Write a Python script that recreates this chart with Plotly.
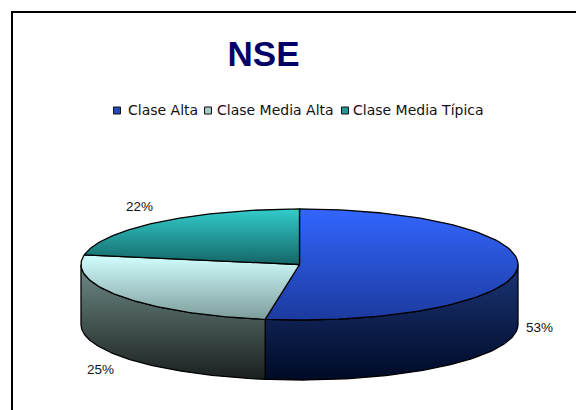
import numpy as np
import plotly.graph_objects as go

# --- data ---
categories = ["Clase Alta", "Clase Media Alta", "Clase Media Típica"]
values = [52.51, 25.29, 22.2]
title_text = "NSE"

# --- styles ---
top_colors = [("#3366ff", "#1c3a9e"), ("#d2ffff", "#7c9c9a"), ("#33cccc", "#146666")]
side_colors = [("#1b3577", "#000a26"), ("#6f8c88", "#1a1f1f"), ("#146666", "#0a3333")]
swatch_colors = ["#2448c0", "#a8c8c6", "#229a9a"]

# --- geometry of the drawing (axis units = pixels of the page) ---
CX, CY, RX, RY, DEPTH = 299.5, 264.5, 218.5, 55.5, 60
LABEL_POS = [(539, 327), (100, 369), (139, 206)]
LEGEND_KEY_X = [117, 208, 345]
LEGEND_TEXT_X = [128, 217, 353]
LEGEND_Y = 110


def ellipse(turn_a, turn_b, n=90, dy=0):
    t = np.linspace(turn_a, turn_b, n) * 2 * np.pi
    return CX + RX * np.sin(t), CY - RY * np.cos(t) + dy


fig = go.Figure()
total = sum(values)
edges = np.cumsum([0] + values) / total
LINE = dict(color="#000000", width=1.3)

# side walls: only the front half of the disc (turn 0.25 .. 0.75) is visible
for i in range(len(values)):
    a, b = max(edges[i], 0.25), min(edges[i + 1], 0.75)
    if a >= b:
        continue
    x1, y1 = ellipse(a, b)
    x2, y2 = ellipse(b, a, dy=DEPTH)
    fig.add_trace(go.Scatter(
        x=np.r_[x1, x2, x1[0]], y=np.r_[y1, y2, y1[0]],
        mode="lines", line=LINE, fill="toself",
        fillgradient=dict(type="vertical", start=CY, stop=CY + RY + DEPTH,
                          colorscale=[[0, side_colors[i][0]], [1, side_colors[i][1]]]),
        showlegend=False, hoverinfo="skip",
    ))

# top faces
for i, cat in enumerate(categories):
    x, y = ellipse(edges[i], edges[i + 1])
    top = CY - RY if i != 1 else float(y.min())
    fig.add_trace(go.Scatter(
        x=np.r_[CX, x, CX], y=np.r_[CY, y, CY],
        mode="lines", line=LINE, fill="toself", name=cat,
        fillgradient=dict(type="vertical", start=top, stop=CY + RY if i != 2 else CY,
                          colorscale=[[0, top_colors[i][0]], [1, top_colors[i][1]]]),
        showlegend=False, hoverinfo="name",
    ))

annotations = []
for v, (lx, ly) in zip(values, LABEL_POS):
    annotations.append(dict(x=lx, y=ly, xref="x", yref="y", text=f"{round(v)}%", showarrow=False,
                            font=dict(family="Liberation Sans", size=13.5, color="#111111"),
                            xanchor="center", yanchor="middle"))
shapes = [
    dict(type="line", xref="x", yref="y", x0=11, x1=576, y0=12, y1=12, line=dict(color="#000", width=2)),
    dict(type="line", xref="x", yref="y", x0=12, x1=12, y0=11, y1=410, line=dict(color="#000", width=2)),
]
for cat, kx, tx, c in zip(categories, LEGEND_KEY_X, LEGEND_TEXT_X, swatch_colors):
    annotations.append(dict(x=tx, y=LEGEND_Y, xref="x", yref="y", text=cat, showarrow=False,
                            font=dict(family="DejaVu Sans", size=14, color="#111111"),
                            xanchor="left", yanchor="middle", xshift=-2))
    shapes.append(dict(type="rect", xref="x", yref="y", x0=kx - 3.5, x1=kx + 3.5,
                       y0=LEGEND_Y - 3, y1=LEGEND_Y + 4, fillcolor=c,
                       line=dict(color="#111111", width=1)))

fig.update_layout(
    width=576, height=410, autosize=False,
    margin=dict(l=0, r=0, t=0, b=0),
    paper_bgcolor="white", plot_bgcolor="white",
    showlegend=False,
    title=dict(text=f"<b>{title_text}</b>", x=263.5 / 576, y=1 - 54 / 410,
               xanchor="center", yanchor="middle", xref="paper", yref="paper",
               font=dict(family="Liberation Sans", size=35, color="#000066")),
    xaxis=dict(range=[0, 576], visible=False, fixedrange=True),
    yaxis=dict(range=[410, 0], visible=False, fixedrange=True),
    annotations=annotations, shapes=shapes,
)
fig.write_html("out.html", config=dict(displayModeBar=False),
               post_script="document.body.style.margin='0';document.body.style.overflow='hidden';")
